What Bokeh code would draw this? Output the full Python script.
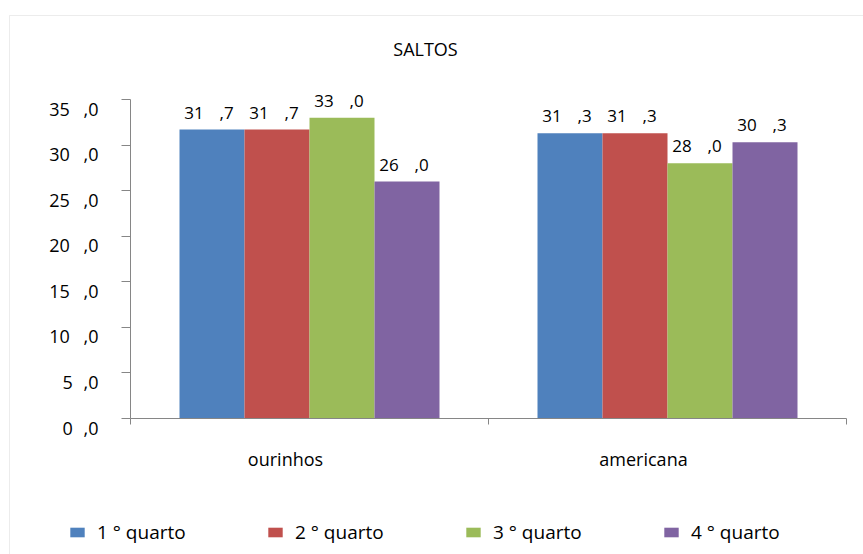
from bokeh.plotting import figure
from bokeh.models import (ColumnDataSource, Range1d, LinearAxis, FixedTicker,
                          LabelSet, Label, Legend, LegendItem, BoxAnnotation)
from bokeh.core.properties import value
from bokeh.transform import dodge
from bokeh.embed import file_html
from bokeh.resources import INLINE

# data
categories = ["ourinhos", "americana"]
series_names = ["1 ° quarto", "2 ° quarto", "3 ° quarto", "4 ° quarto"]
q1 = [31.7, 31.3]
q2 = [31.7, 31.3]
q3 = [33.0, 28.0]
q4 = [26.0, 30.3]
y_ticks = [0, 5, 10, 15, 20, 25, 30, 35]
chart_title = "SALTOS"

series_values = [q1, q2, q3, q4]
colors = ["#4F81BD", "#C0504D", "#9BBB59", "#8064A2"]
FONT = "Open Sans"
TEXT = "#000000"
AXIS = "#868686"

W, H = 863, 554
# plot-area placement in pixels (left, right, top, bottom)
PL, PR, PT, PB = 130, 846, 99, 418


def fmt(v, wide, narrow):
    whole, dec = f"{v:.1f}".split(".")
    sep = wide if len(whole) > 1 else narrow
    return f"{whole}{sep},{dec}"


n = len(categories)
y_max = y_ticks[-1]
# data ranges stretched so the whole canvas is the frame
xu = (PR - PL) / n
yu = (PB - PT) / y_max
x_range = Range1d(-PL / xu, n + (W - PR) / xu)
y_range = Range1d(-(H - PB) / yu, y_max + PT / yu)

p = figure(width=W, height=H, x_range=x_range, y_range=y_range,
           output_backend="svg", toolbar_location=None, title=None,
           min_border=0, min_border_left=0, min_border_right=0,
           min_border_top=0, min_border_bottom=0,
           x_axis_type=None, y_axis_type=None)
p.grid.visible = False
p.outline_line_color = None
p.background_fill_color = "white"
p.border_fill_color = "white"

# y axis line and tick marks
yaxis = LinearAxis(ticker=FixedTicker(ticks=y_ticks), fixed_location=0, bounds=(0, y_max),
                   major_label_overrides={t: "" for t in y_ticks})
yaxis.axis_line_color = AXIS
yaxis.major_tick_line_color = AXIS
yaxis.major_tick_out = 9
yaxis.major_tick_in = 0
yaxis.minor_tick_line_color = None
yaxis.major_label_text_font_size = "1px"
p.add_layout(yaxis, "left")

# y tick labels, set one unit below their tick marks
label_ticks = [t - 1 for t in y_ticks]
ylabels = LinearAxis(ticker=FixedTicker(ticks=label_ticks), fixed_location=0,
                     bounds=(-1, y_max),
                     major_label_overrides={t - 1: fmt(t, "\u2002\u2009\u200a", "\u2002\u200a")
                                            for t in y_ticks})
ylabels.axis_line_color = None
ylabels.major_tick_line_color = None
ylabels.major_tick_out = 9
ylabels.major_tick_in = 0
ylabels.minor_tick_line_color = None
ylabels.major_label_standoff = 23
ylabels.major_label_text_font = FONT
ylabels.major_label_text_font_size = "18px"
ylabels.major_label_text_color = TEXT
p.add_layout(ylabels, "left")

# x axis: ticks at the category boundaries
xaxis = LinearAxis(ticker=FixedTicker(ticks=list(range(n + 1))), fixed_location=0, bounds=(0, n),
                   major_label_overrides={i: "" for i in range(n + 1)})
xaxis.axis_line_color = AXIS
xaxis.major_tick_line_color = AXIS
xaxis.major_tick_out = 6
xaxis.major_tick_in = 0
xaxis.minor_tick_line_color = None
xaxis.major_label_text_font_size = "1px"
p.add_layout(xaxis, "below")

# bars
bar_w = 65 / 358
offsets = [(i - 1.5) * bar_w for i in range(4)]
data = {"cat": categories, "pos": [i + 0.5 for i in range(n)]}
for i, vals in enumerate(series_values):
    data[f"s{i}"] = vals
    data[f"l{i}"] = [fmt(v, "\u2002\u2009\u2009\u200a", "\u2002") for v in vals]
src = ColumnDataSource(data)

renderers = []
for i in range(4):
    r = p.vbar(x=dodge("pos", offsets[i]), top=f"s{i}", width=bar_w,
               source=src, fill_color=colors[i], line_color=None)
    renderers.append(r)
    p.add_layout(LabelSet(x=dodge("pos", offsets[i]), y=f"s{i}", text=f"l{i}",
                          source=src, text_align="center", text_baseline="alphabetic",
                          y_offset=11, x_offset=-3, text_font=value(FONT),
                          text_font_size="17px", text_color=TEXT))

# category names
p.add_layout(LabelSet(x="pos", y=0, text="cat", source=src, text_align="center",
                      text_baseline="alphabetic", x_offset=-24, y_offset=-47,
                      text_font=value(FONT), text_font_size="18px", text_color=TEXT))

# title
p.add_layout(Label(x=425, y=H - 48, x_units="screen", y_units="screen", text=chart_title,
                   text_align="center", text_baseline="middle", text_font=FONT,
                   text_font_size="18px", text_color=TEXT))

# legend
legend = Legend(items=[LegendItem(label=series_names[i], renderers=[renderers[i]]) for i in range(4)],
                location=(68, H - 545), orientation="horizontal",
                glyph_width=18, glyph_height=12, label_standoff=11, label_width=169,
                spacing=0, padding=0, margin=0, border_line_color=None,
                background_fill_alpha=0, label_text_font=FONT, label_text_font_size="19px",
                label_text_color=TEXT)
p.add_layout(legend)

# chart area border
p.add_layout(BoxAnnotation(left=9, right=W + 20, top=H - 15, bottom=-20,
                           left_units="screen", right_units="screen",
                           top_units="screen", bottom_units="screen",
                           fill_alpha=0, line_color="#BFBFBF", line_width=1))

open("out.html", "w").write(file_html(p, INLINE))
